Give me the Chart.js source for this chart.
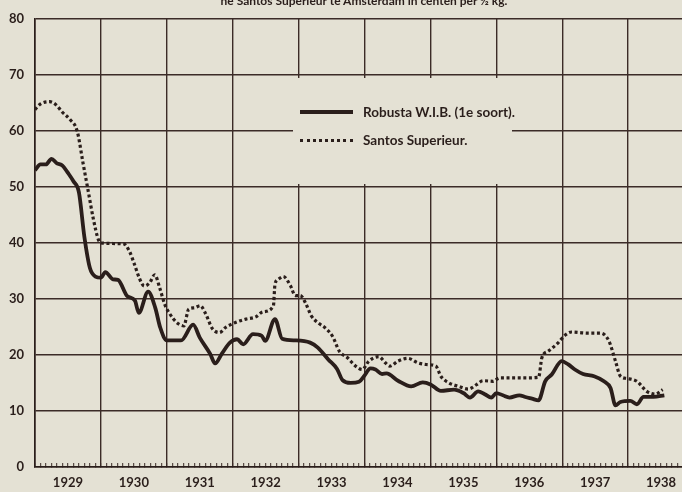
<!DOCTYPE html>
<html lang="nl">
<head>
    <meta charset="UTF-8">
    <title>Robusta W.I.B. en Santos Superieur te Amsterdam</title>
    <script src="https://cdn.jsdelivr.net/npm/chart.js"></script>
    <style>
        html, body {
            margin: 0;
            padding: 0;
            width: 682px;
            height: 492px;
            overflow: hidden;
            background: #e4e1d4;
            font-family: "Lato", "Open Sans", sans-serif;
            color: #2a1e1b;
        }
        #wrap {
            position: absolute;
            left: 0;
            top: 0;
            width: 720px;
            height: 492px;
        }
        .title {
            position: absolute;
            left: 204px;
            top: -7px;
            width: 320px;
            text-align: center;
            font-size: 12px;
            font-weight: 700;
            white-space: nowrap;
        }
        .legend {
            position: absolute;
            left: 293px;
            top: 78px;
            width: 219px;
            height: 106px;
            background: #e4e1d4;
        }
        .legend .row {
            position: absolute;
            left: 7px;
            display: flex;
            align-items: center;
            font-size: 13.5px;
            font-weight: 700;
            white-space: nowrap;
        }
        .legend .sample {
            width: 53px;
            margin-right: 10px;
        }
        .solid { border-top: 4px solid #2a1e1b; }
        .dotted { border-top: 3px dotted #2a1e1b; }
    </style>
</head>
<body>
    <div id="wrap">
        <canvas id="coffeeChart" width="720" height="492"></canvas>
    </div>
    <div class="title">ne Santos Superieur te Amsterdam in centen per ½ kg.</div>
    <div class="legend">
        <div class="row" style="top: 26px;"><span class="sample solid"></span>Robusta W.I.B. (1e soort).</div>
        <div class="row" style="top: 54px;"><span class="sample dotted"></span>Santos Superieur.</div>
    </div>

    <script>
        // jaren onder de as (maand 0 = januari 1929)
        const years = ['1929', '1930', '1931', '1932', '1933', '1934', '1935', '1936', '1937', '1938'];

        // Robusta W.I.B. (1e soort), cent per 1/2 kg
        const robustaMonths = [0, 1, 2, 3, 4, 5, 6, 7, 8, 9, 10, 11, 12, 12.8, 14.2, 15.1, 16.8, 18.2, 18.9, 20.6,
            21.9, 22.8, 24, 26.6, 28.8, 30, 31.9, 32.8, 34, 35.5, 36.8, 37.9, 39.7, 41.3, 41.9, 43.7, 45, 47.4,
            50.1, 51.5, 53.4, 55, 56, 57.5, 59, 59.9, 61.1, 62, 63.2, 64, 66.1, 68.5, 70.6, 72.1, 73.9, 76.3, 78,
            79.2, 80.7, 81.9, 83.1, 84, 85.2, 86.4, 88.2, 89.3, 90.5, 91.7, 92.9, 94.1, 95.9, 97.1, 98.3, 99.8,
            101.8, 103.6, 104.8, 105.7, 106.6, 108.4, 109.6, 110.8, 112.6, 114.6];
        const robustaPrices = [53, 54, 54, 55, 54.2, 53.8, 52.5, 51, 49, 41, 35.5, 34, 33.8, 34.8, 33.5, 33.4, 30.5,
            29.7, 27.5, 31.3, 28.4, 24.9, 22.6, 22.6, 25.4, 23.1, 20.2, 18.5, 20.2, 22.2, 22.8, 21.9, 23.7, 23.4,
            22.5, 26.4, 22.9, 22.6, 22.2, 21.3, 19.2, 17.5, 15.5, 15, 15.2, 16.2, 17.6, 17.4, 16.6, 16.7, 15.4,
            14.4, 15.1, 14.7, 13.6, 13.8, 13.2, 12.4, 13.5, 13, 12.4, 13.2, 12.8, 12.4, 12.8, 12.5, 12.2, 11.9,
            15.3, 16.5, 18.9, 18.3, 17.4, 16.6, 16.2, 15.3, 14.1, 11, 11.6, 11.8, 11.2, 12.5, 12.5, 12.8];

        // Santos Superieur, cent per 1/2 kg
        const santosMonths = [0, 1, 2.7, 4, 4.9, 6.4, 7.7, 8.7, 9.7, 10.6, 11.5, 12, 16.2, 17.2, 18.1, 19, 19.9,
            20.9, 21.8, 22.7, 23.6, 24.5, 25.8, 27.1, 28, 29, 30.1, 31, 32.3, 33.6, 34.7, 36.5, 38.4, 40.2, 41.5,
            43.4, 43.7, 44.3, 45.2, 46.5, 47.4, 48.3, 49.3, 50.3, 51.6, 52.9, 54.2, 55.4, 56.9, 58.4, 59.6, 60.8,
            62.6, 63.8, 64.6, 66.1, 67.9, 69.7, 71.2, 73, 73.9, 75.4, 77.1, 78.9, 80.4, 81.6, 83.4, 84.6, 86.4,
            88.8, 91.7, 92.3, 93.5, 95.3, 96.5, 97.7, 100.7, 103, 104.5, 105.7, 106.6, 107.8, 109.6, 111.4, 112.9,
            114.3];
        const santosPrices = [63.8, 64.8, 65.2, 64.5, 63.4, 62, 59.9, 54.5, 49.2, 44.4, 40.7, 40, 39.8, 38.5, 36.2,
            33.7, 32.3, 32.9, 34.3, 32, 29.1, 27.4, 25.8, 25.2, 28.2, 28.4, 28.8, 27.5, 24.7, 24, 24.9, 25.8, 26.4,
            26.8, 27.7, 28.7, 32.6, 33.5, 34, 32.4, 30.6, 30.6, 29.2, 27, 25.7, 24.8, 23.3, 20.7, 19.5, 18, 17.4,
            18.9, 19.7, 18.6, 18, 18.9, 19.4, 18.6, 18.3, 18, 16.2, 15, 14.4, 13.9, 14.7, 15.4, 15.3, 15.9, 15.9,
            15.9, 16, 19.5, 20.7, 22.2, 23.5, 24.1, 23.9, 23.9, 22.5, 18.9, 16.2, 15.8, 15.3, 13.5, 13, 13.8];

        const ink = '#2a1e1b';
        const gridInk = '#3b2b27';

        const toPoints = (xs, ys) => xs.map((x, i) => ({ x: x, y: ys[i] }));

        const ctx = document.getElementById('coffeeChart').getContext('2d');
        new Chart(ctx, {
            type: 'line',
            data: {
                datasets: [{
                    label: 'Robusta W.I.B. (1e soort).',
                    data: toPoints(robustaMonths, robustaPrices),
                    borderColor: ink,
                    borderWidth: 3.8,
                    pointRadius: 0,
                    cubicInterpolationMode: 'monotone',
                    borderJoinStyle: 'round'
                }, {
                    label: 'Santos Superieur.',
                    data: toPoints(santosMonths, santosPrices),
                    borderColor: ink,
                    borderWidth: 3.2,
                    borderDash: [3, 2.6],
                    pointRadius: 0,
                    cubicInterpolationMode: 'monotone'
                }]
            },
            options: {
                responsive: false,
                animation: false,
                layout: {
                    padding: { top: 16, right: 26, left: 0, bottom: 0 }
                },
                plugins: {
                    legend: { display: false },
                    tooltip: { enabled: false }
                },
                scales: {
                    x: {
                        type: 'linear',
                        min: 0,
                        max: 120,
                        afterFit: (scale) => { scale.height = 25; },
                        border: { display: true, color: ink, width: 1.6 },
                        grid: {
                            color: (c) => (c.tick && c.tick.value % 12 === 0 ? gridInk : 'transparent'),
                            lineWidth: 1.4,
                            tickColor: gridInk,
                            tickLength: -4,
                            tickWidth: 1
                        },
                        ticks: {
                            stepSize: 1,
                            autoSkip: false,
                            maxRotation: 0,
                            padding: 12,
                            color: ink,
                            font: { family: 'Lato', size: 13, weight: '700' },
                            callback: (v) => (v % 12 === 6 ? years[(v - 6) / 12] : '')
                        }
                    },
                    y: {
                        min: 0,
                        max: 80,
                        afterFit: (scale) => { scale.width = 35; },
                        border: { display: true, color: ink, width: 1.6 },
                        grid: {
                            color: gridInk,
                            lineWidth: 1.4,
                            drawTicks: false
                        },
                        ticks: {
                            stepSize: 10,
                            padding: 11,
                            color: ink,
                            font: { family: 'Lato', size: 13, weight: '700' }
                        }
                    }
                }
            }
        });
    </script>
</body>
</html>
